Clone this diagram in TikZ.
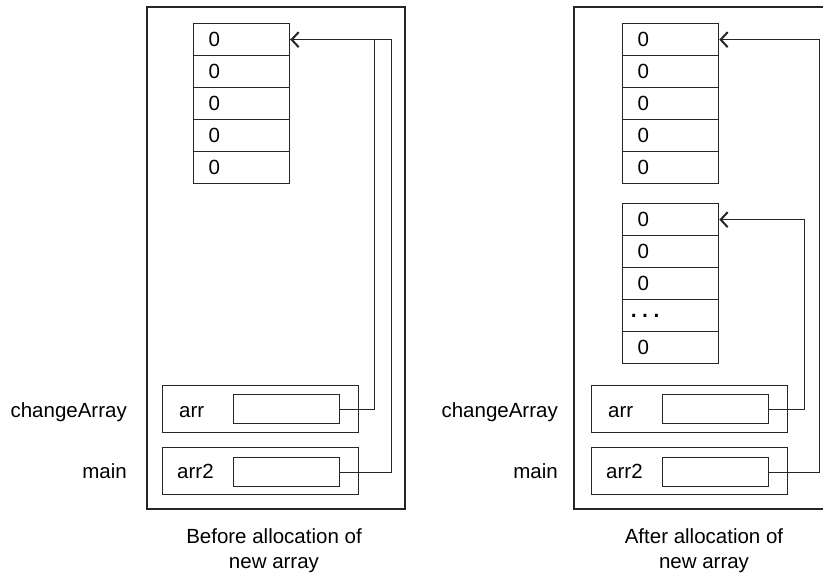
\documentclass[tikz,border=0pt]{standalone}
\usepackage{fontspec}
\setmainfont{Liberation Sans}
\usetikzlibrary{arrows.meta}
\begin{document}
\begin{tikzpicture}[x=1pt,y=-1pt,
  every node/.style={font=\fontsize{20.5}{24}\selectfont},
  ln/.style={line width=1.3pt, draw=black!85},
  cell/.style={ln, rectangle, anchor=north west, minimum width=96pt, minimum height=32pt,
    inner xsep=15pt, inner ysep=0pt, text width=66pt, align=left},
  frame/.style={ln, rectangle, anchor=north west, minimum width=196pt, minimum height=47pt, inner sep=0pt},
  slot/.style={ln, rectangle, anchor=north west, minimum width=106pt, minimum height=29pt, inner sep=0pt},
  lbl/.style={inner sep=0pt},
  ptr/.style={line width=1.2pt, draw=black!85, -{Straight Barb[length=7pt,width=15pt,line width=2pt]}},
  wire/.style={line width=1.2pt, draw=black!85}
]
\useasboundingbox (0,0) rectangle (823,573);

% ---------- left panel ----------
\draw[ln] (147,7) rectangle (405,509);
\node[cell] (la1) at (193,23) {0};
\node[cell] (la2) at (193,55) {0};
\node[cell] (la3) at (193,87) {0};
\node[cell] (la4) at (193,119) {0};
\node[cell] (la5) at (193,151) {0};

\node[frame] (lfc) at (162,385) {};
\node[slot] (lsc) at (233,394) {};
\node[lbl, anchor=base west] (ltc) at (179,417) {arr};
\node[frame] (lfm) at (162,447) {};
\node[slot] (lsm) at (233,457) {};
\node[lbl, anchor=base west] (ltm) at (177,478) {arr2};

\node[lbl, anchor=base east] (lcA) at (127,417) {changeArray};
\node[lbl, anchor=base east] (lmn) at (127,478) {main};

\draw[wire] (lsc.east) -- ++(34,0) coordinate (lc1) |- (la1.east);
\draw[ptr] (lsm.east) -- ++(51,0) coordinate (lc2) |- (la1.east);

\node[lbl, anchor=base] (lcap1) at (274,543) {Before allocation of};
\node[lbl, anchor=base] (lcap2) at (274,568) {new array};

% ---------- right panel ----------
\draw[ln] (830,7) -- (574,7) -- (574,509) -- (830,509);
\node[cell] (ra1) at (622,23) {0};
\node[cell] (ra2) at (622,55) {0};
\node[cell] (ra3) at (622,87) {0};
\node[cell] (ra4) at (622,119) {0};
\node[cell] (ra5) at (622,151) {0};

\node[cell] (rb1) at (622,203) {0};
\node[cell] (rb2) at (622,235) {0};
\node[cell] (rb3) at (622,267) {0};
\node[cell, inner xsep=7pt, text width=82pt] (rb4) at (622,299) {\fontsize{30}{30}\selectfont .\kern3pt.\kern3pt.};
\node[cell] (rb5) at (622,331) {0};

\node[frame] (rfc) at (591,385) {};
\node[slot] (rsc) at (662,394) {};
\node[lbl, anchor=base west] (rtc) at (608,417) {arr};
\node[frame] (rfm) at (591,447) {};
\node[slot] (rsm) at (662,457) {};
\node[lbl, anchor=base west] (rtm) at (606,478) {arr2};

\node[lbl, anchor=base east] (rcA) at (558,417) {changeArray};
\node[lbl, anchor=base east] (rmn) at (558,478) {main};

\draw[ptr] (rsc.east) -- ++(35,0) coordinate (rc1) |- (rb1.east);
\draw[ptr] (rsm.east) -- ++(50,0) coordinate (rc2) |- (ra1.east);

\node[lbl, anchor=base] (rcap1) at (704,543) {After allocation of};
\node[lbl, anchor=base] (rcap2) at (704,568) {new array};
\end{tikzpicture}
\end{document}
